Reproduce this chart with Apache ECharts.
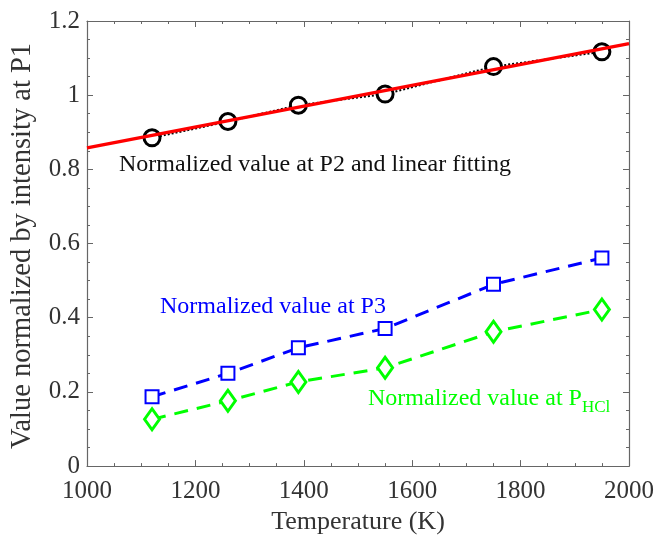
<!DOCTYPE html>
<html>
<head>
	<meta charset="utf-8"/>
	<title>Normalized values</title>
	<style>
		* { margin: 0; padding: 0; }
		html, body { width: 100%; height: 100%; background: #fff; }
		#main { width: 657px; height: 540px; }
	</style>
</head>
<body>
	<div id="main"></div>
	<script src="https://cdn.jsdelivr.net/npm/echarts@6/dist/echarts.min.js"></script>
	<script>
		var temps = [1120, 1260, 1390, 1550, 1750, 1950];
		var p2Values = [0.885, 0.929, 0.973, 1.003, 1.077, 1.117];
		var p3Values = [0.187, 0.250, 0.319, 0.371, 0.490, 0.561];
		var hclValues = [0.126, 0.176, 0.227, 0.265, 0.362, 0.422];
		// linear fit end points
		var fitX = [1000, 2000];
		var fitY = [0.858, 1.139];

		var serif = 'Liberation Serif';

		function pairs(xs, ys) {
			return xs.map(function (x, i) { return [x, ys[i]]; });
		}

		var myChart = echarts.init(document.getElementById('main'));

		var axisCommon = {
			axisLine: { show: true, onZero: false, lineStyle: { color: '#666', width: 1.2 } },
			axisTick: { show: true, inside: true, length: 6, lineStyle: { color: '#666' } },
			minorTick: { show: true, splitNumber: 4, length: 3, lineStyle: { color: '#666' } },
			splitLine: { show: false },
			axisLabel: { color: '#333', fontFamily: serif, fontSize: 25 }
		};

		var option = {
			animation: false,
			grid: { left: 87, right: 27, top: 21, bottom: 73 },
			xAxis: [
				echarts.util.merge({
					type: 'value', min: 1000, max: 2000, interval: 200,
					position: 'bottom',
					name: 'Temperature (K)', nameLocation: 'middle', nameGap: 42,
					nameTextStyle: { color: '#333', fontFamily: serif, fontSize: 26 },
					axisLabel: { margin: 13, formatter: function (v) { return String(v); } }
				}, axisCommon, false),
				echarts.util.merge({
					type: 'value', min: 1000, max: 2000, interval: 200,
					position: 'top', axisLabel: { show: false }
				}, axisCommon, false)
			],
			yAxis: [
				echarts.util.merge({
					type: 'value', min: 0, max: 1.2, interval: 0.2,
					position: 'left',
					axisLabel: { margin: 7 }
				}, axisCommon, false),
				echarts.util.merge({
					type: 'value', min: 0, max: 1.2, interval: 0.2,
					position: 'right', axisLabel: { show: false }
				}, axisCommon, false)
			],
			series: [
				{
					type: 'line',
					data: pairs(temps, p2Values),
					symbol: 'circle', symbolSize: 16,
					itemStyle: { color: '#fff', borderColor: '#000', borderWidth: 3 },
					lineStyle: { color: '#000', width: 2, type: [2, 2] },
					z: 2
				},
				{
					type: 'line',
					data: pairs(fitX, fitY),
					showSymbol: false,
					lineStyle: { color: '#ff0000', width: 3.5 },
					z: 3
				},
				{
					type: 'line',
					data: pairs(temps, p3Values),
					symbol: 'rect', symbolSize: 13,
					itemStyle: { color: '#fff', borderColor: '#0000ff', borderWidth: 2 },
					lineStyle: { color: '#0000ff', width: 3, type: [14, 9] }
				},
				{
					type: 'line',
					data: pairs(temps, hclValues),
					symbol: 'diamond', symbolSize: [15, 21],
					itemStyle: { color: '#fff', borderColor: '#00ff00', borderWidth: 3 },
					lineStyle: { color: '#00ff00', width: 3, type: [14, 9] }
				}
			],
			graphic: [
				{
					type: 'text', x: 23, y: 246, rotation: Math.PI / 2,
					style: {
						text: 'Value normalized by intensity at P1', fill: '#333',
						font: '28.5px "Liberation Serif"', align: 'center', verticalAlign: 'middle'
					}
				},
				{
					type: 'text', left: 119, top: 153,
					style: { text: 'Normalized value at P2 and linear fitting', fill: '#111', font: '24px "Liberation Serif"' }
				},
				{
					type: 'text', left: 160, top: 295,
					style: { text: 'Normalized value at P3', fill: '#0000ff', font: '24px "Liberation Serif"' }
				},
				{
					type: 'text', left: 368, top: 387,
					style: {
						text: '{a|Normalized value at P}{b|HCl}',
						rich: {
							a: { fill: '#00ff00', font: '24px "Liberation Serif"', verticalAlign: 'bottom' },
							b: { fill: '#00ff00', font: '17px "Liberation Serif"', verticalAlign: 'bottom', padding: [0, 0, -5, 0] }
						}
					}
				}
			]
		};

		myChart.setOption(option);
	</script>
</body>
</html>
